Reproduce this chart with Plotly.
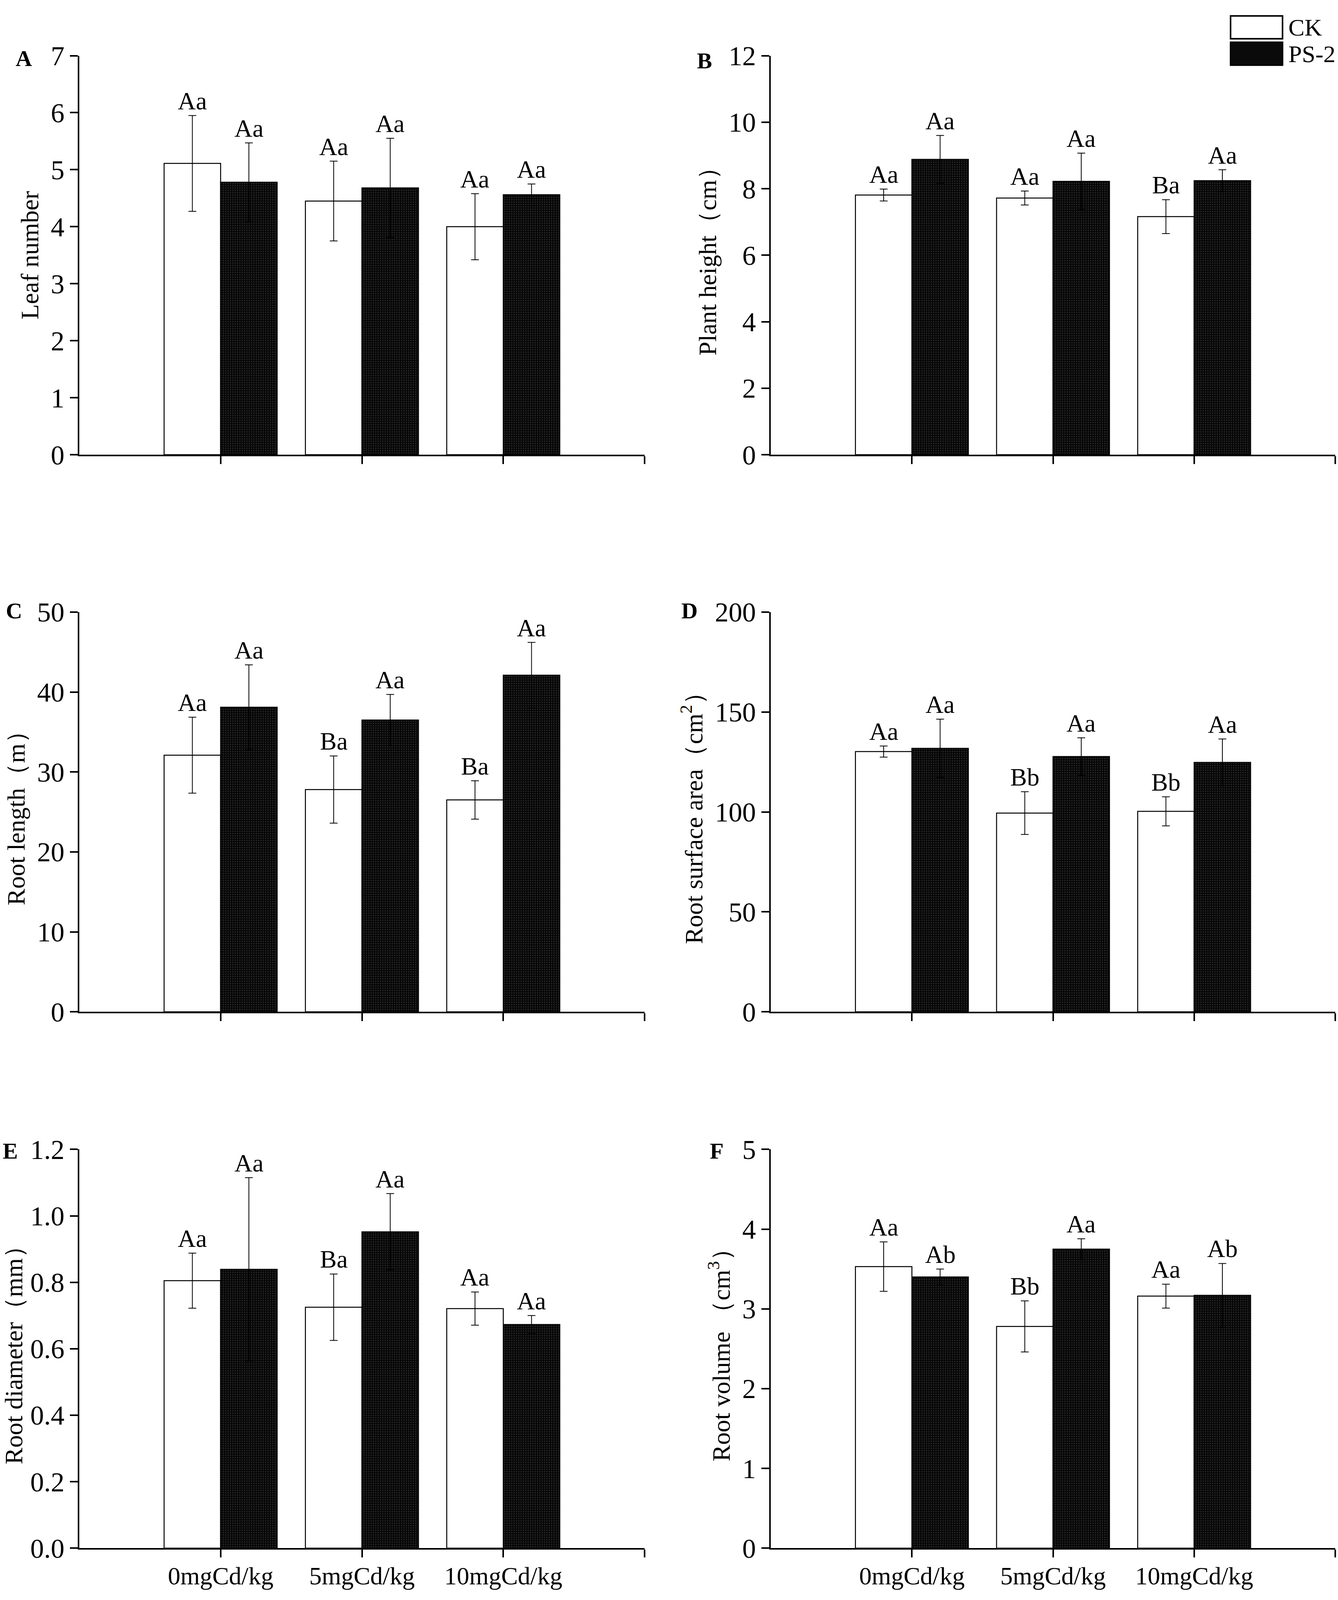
import plotly.graph_objects as go
from plotly.subplots import make_subplots

# treatment groups (x positions 1..3 on the category axis)
groups = [1, 2, 3]
group_labels = ["0mgCd/kg", "5mgCd/kg", "10mgCd/kg"]

# A - leaf number
leaf_ck = [5.11, 4.45, 4.00]
leaf_ck_sd = [0.84, 0.70, 0.58]
leaf_ps = [4.78, 4.68, 4.56]
leaf_ps_sd = [0.69, 0.87, 0.19]
leaf_ck_sig = ["Aa", "Aa", "Aa"]
leaf_ps_sig = ["Aa", "Aa", "Aa"]

# B - plant height (cm)
height_ck = [7.81, 7.72, 7.16]
height_ck_sd = [0.18, 0.21, 0.51]
height_ps = [8.88, 8.22, 8.24]
height_ps_sd = [0.72, 0.85, 0.33]
height_ck_sig = ["Aa", "Aa", "Ba"]
height_ps_sig = ["Aa", "Aa", "Aa"]

# C - root length (m)
length_ck = [32.1, 27.8, 26.5]
length_ck_sd = [4.75, 4.2, 2.4]
length_ps = [38.1, 36.5, 42.1]
length_ps_sd = [5.3, 3.2, 4.1]
length_ck_sig = ["Aa", "Ba", "Ba"]
length_ps_sig = ["Aa", "Aa", "Aa"]

# D - root surface area (cm2)
area_ck = [130.2, 99.4, 100.3]
area_ck_sd = [2.8, 10.7, 7.3]
area_ps = [131.8, 127.7, 124.8]
area_ps_sd = [14.6, 9.4, 11.7]
area_ck_sig = ["Aa", "Bb", "Bb"]
area_ps_sig = ["Aa", "Aa", "Aa"]

# E - root diameter (mm)
diam_ck = [0.805, 0.725, 0.721]
diam_ck_sd = [0.083, 0.10, 0.05]
diam_ps = [0.839, 0.952, 0.673]
diam_ps_sd = [0.276, 0.115, 0.027]
diam_ck_sig = ["Aa", "Ba", "Aa"]
diam_ps_sig = ["Aa", "Aa", "Aa"]

# F - root volume (cm3)
vol_ck = [3.53, 2.78, 3.16]
vol_ck_sd = [0.31, 0.32, 0.15]
vol_ps = [3.40, 3.75, 3.17]
vol_ps_sd = [0.10, 0.13, 0.40]
vol_ck_sig = ["Aa", "Bb", "Aa"]
vol_ps_sig = ["Ab", "Aa", "Ab"]

# reference frame in pixels; everything is placed as a fraction of it
W, H = 3425, 4460
FONT = "Liberation Serif, Times New Roman, serif"

panels = [
    dict(letter="A", title="Leaf number", rng=[0, 7], dtick=1, fmt="d",
         ck=leaf_ck, cksd=leaf_ck_sd, ps=leaf_ps, pssd=leaf_ps_sd,
         cksig=leaf_ck_sig, pssig=leaf_ps_sig, lx=38, ly=124),
    dict(letter="B", title="Plant height（cm）", rng=[0, 12], dtick=2, fmt="d",
         ck=height_ck, cksd=height_ck_sd, ps=height_ps, pssd=height_ps_sd,
         cksig=height_ck_sig, pssig=height_ps_sig, lx=1782, ly=130),
    dict(letter="C", title="Root length（m）", rng=[0, 50], dtick=10, fmt="d",
         ck=length_ck, cksd=length_ck_sd, ps=length_ps, pssd=length_ps_sd,
         cksig=length_ck_sig, pssig=length_ps_sig, lx=13, ly=1693),
    dict(letter="D", title="Root surface area（cm<sup>2</sup>）", rng=[0, 200], dtick=50, fmt="d",
         ck=area_ck, cksd=area_ck_sd, ps=area_ps, pssd=area_ps_sd,
         cksig=area_ck_sig, pssig=area_ps_sig, lx=1742, ly=1693),
    dict(letter="E", title="Root diameter（mm）", rng=[0, 1.2], dtick=0.2, fmt=".1f",
         ck=diam_ck, cksd=diam_ck_sd, ps=diam_ps, pssd=diam_ps_sd,
         cksig=diam_ck_sig, pssig=diam_ps_sig, lx=5, ly=3228),
    dict(letter="F", title="Root volume （cm<sup>3</sup>）", rng=[0, 5], dtick=1, fmt="d",
         ck=vol_ck, cksd=vol_ck_sd, ps=vol_ps, pssd=vol_ps_sd,
         cksig=vol_ck_sig, pssig=vol_ps_sig, lx=1815, ly=3228),
]

# pixel frames of each plot area: (left, right) per column, (top, bottom) per row
col_px = [(203, 1650), (1973, 3418)]
row_px = [(116, 1250), (1697, 2833), (3224, 4357)]

fig = make_subplots(rows=3, cols=2)

ps_pattern = dict(shape=".", bgcolor="#050505", fgcolor="#5a5a5a", size=6, solidity=0.25)

for i, p in enumerate(panels):
    r, c = i // 2 + 1, i % 2 + 1
    fig.add_trace(go.Bar(
        x=groups, y=p["ck"], name="CK", showlegend=False,
        marker=dict(color="white", line=dict(color="black", width=2.5)),
        error_y=dict(type="data", array=p["cksd"], color="black", thickness=2, width=10),
    ), row=r, col=c)
    fig.add_trace(go.Bar(
        x=groups, y=p["ps"], name="PS-2", showlegend=False,
        marker=dict(color="#050505", pattern=ps_pattern, line=dict(color="black", width=2.5)),
        error_y=dict(type="data", array=p["pssd"], color="black", thickness=2, width=10),
    ), row=r, col=c)

    xa = "x" if i == 0 else f"x{i + 1}"
    ya = "y" if i == 0 else f"y{i + 1}"
    for g, v, s, t in zip(groups, p["ck"], p["cksd"], p["cksig"]):
        fig.add_annotation(x=g - 0.2, y=v + s, xref=xa, yref=ya, text=t, showarrow=False,
                           yanchor="bottom", font=dict(family=FONT, size=64, color="black"))
    for g, v, s, t in zip(groups, p["ps"], p["pssd"], p["pssig"]):
        fig.add_annotation(x=g + 0.2, y=v + s, xref=xa, yref=ya, text=t, showarrow=False,
                           yanchor="bottom", font=dict(family=FONT, size=64, color="black"))

    fig.add_annotation(x=p["lx"] / W, y=1 - p["ly"] / H, xref="paper", yref="paper",
                       text=f"<b>{p['letter']}</b>", showarrow=False, xanchor="left",
                       yanchor="middle", font=dict(family=FONT, size=58, color="black"))

    left, right = col_px[c - 1]
    top, bottom = row_px[r - 1]
    bottom_row = r == 3
    # labelled ticks under the groups, plus a bare tick closing the axis at x=4
    fig.update_xaxes(
        domain=[left / W, right / W], range=[0, 4],
        tickvals=groups, ticktext=group_labels, showticklabels=bottom_row,
        ticks="outside", ticklen=20, tickwidth=4, tickcolor="black",
        minor=dict(tickvals=[4], ticks="outside", ticklen=20, tickwidth=4, tickcolor="black"),
        showline=True, linewidth=4, linecolor="black", showgrid=False, zeroline=False,
        tickfont=dict(family=FONT, size=64, color="black"), ticklabelstandoff=-8,
        row=r, col=c)
    fig.update_yaxes(
        domain=[1 - bottom / H, 1 - top / H], range=p["rng"], dtick=p["dtick"],
        tickformat=p["fmt"], ticks="outside", ticklen=20, tickwidth=4, tickcolor="black",
        showline=True, linewidth=4, linecolor="black", showgrid=False, zeroline=False,
        tickfont=dict(family=FONT, size=70, color="black"),
        title=dict(text=p["title"], standoff=12, font=dict(family=FONT, size=64, color="black")),
        row=r, col=c)

# legend drawn by hand in the top right corner
fig.add_shape(type="rect", xref="paper", yref="paper",
              x0=3150 / W, x1=3283 / W, y0=1 - 68 / H, y1=1 - 3 / H,
              fillcolor="white", line=dict(color="black", width=4))
fig.add_shape(type="rect", xref="paper", yref="paper",
              x0=3150 / W, x1=3283 / W, y0=1 - 143 / H, y1=1 - 78 / H,
              fillcolor="#0a0a0a", line=dict(color="black", width=4))
for label, yc in [("CK", 36), ("PS-2", 111)]:
    fig.add_annotation(x=3296 / W, y=1 - yc / H, xref="paper", yref="paper", text=label,
                       showarrow=False, xanchor="left", yanchor="middle",
                       font=dict(family=FONT, size=62, color="black"))

fig.update_layout(
    autosize=True,
    margin=dict(l=0, r=0, t=0, b=0),
    paper_bgcolor="white", plot_bgcolor="white",
    barmode="group", bargap=0.2, bargroupgap=0,
    font=dict(family=FONT, color="black"),
)

# the figure fills the browser window exactly: no page margin, no scrollbars, no modebar
fig.write_html("out.html", default_width="100vw", default_height="100vh",
               config={"displayModeBar": False, "responsive": True},
               post_script="document.body.style.margin='0';document.body.style.overflow='hidden';")
